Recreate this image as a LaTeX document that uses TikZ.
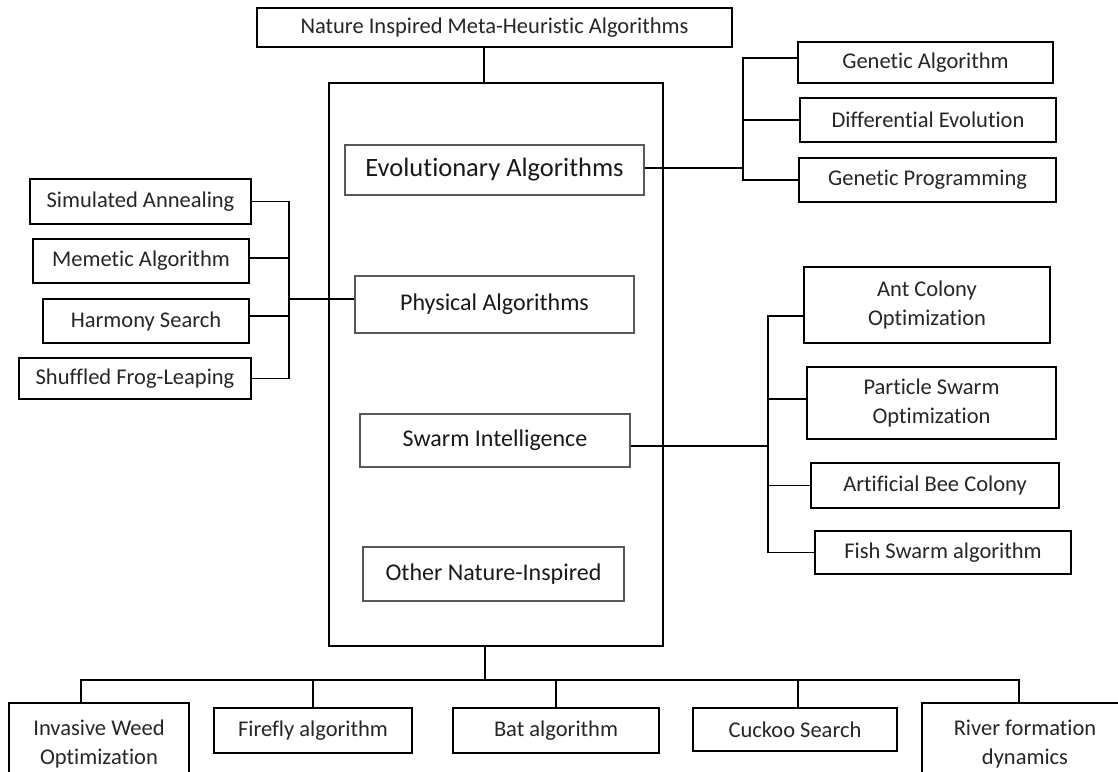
\documentclass[tikz,border=0pt]{standalone}
\usepackage{fontspec}
\setmainfont[Ligatures=NoCommon]{Carlito}
\usepackage{tikz}
\tikzstyle{leafbox}=[draw=black,line width=1.4pt,fill=white,inner sep=0pt,align=center,text=black!85,font=\fontsize{22.5}{29}\selectfont]
\tikzstyle{groupbox}=[draw=black!65,line width=2pt,fill=white,inner sep=0pt,align=center,text=black!90,font=\fontsize{24}{29}\selectfont]
\tikzstyle{framebox}=[draw=black,line width=1.4pt,inner sep=0pt]
\tikzstyle{link}=[line width=1.2pt]

\begin{document}
\begin{tikzpicture}[x=1pt,y=-1pt]
	\useasboundingbox (0,0) rectangle (1118,771);

	% centre column
	\node[framebox,minimum width=334pt,minimum height=563pt] (frame) at (496,364.5) {};
	\node[leafbox,minimum width=475pt,minimum height=39pt] (top) at (494.5,27.5) {Nature Inspired Meta-Heuristic Algorithms};
	\node[groupbox,minimum width=299pt,minimum height=50pt,font=\fontsize{26.5}{30}\selectfont] (evo) at (494.5,170) {Evolutionary Algorithms};
	\node[groupbox,minimum width=279pt,minimum height=57pt] (phys) at (494.5,304.5) {Physical Algorithms};
	\node[groupbox,minimum width=270pt,minimum height=53pt] (swarm) at (495,440.5) {Swarm Intelligence};
	\node[groupbox,minimum width=261pt,minimum height=54pt] (other) at (493.5,574) {Other Nature-Inspired};

	% evolutionary
	\node[leafbox,minimum width=255pt,minimum height=41pt] (ga) at (925.5,62.5) {Genetic Algorithm};
	\node[leafbox,minimum width=256pt,minimum height=44pt] (de) at (928,120) {Differential Evolution};
	\node[leafbox,minimum width=257pt,minimum height=44pt] (gp) at (927.5,180) {Genetic Programming};

	% physical
	\node[leafbox,minimum width=221pt,minimum height=45pt] (sa) at (140.5,201.5) {Simulated Annealing};
	\node[leafbox,minimum width=216pt,minimum height=44pt] (me) at (141,261) {Memetic Algorithm};
	\node[leafbox,minimum width=206pt,minimum height=44pt] (hs) at (146,321) {Harmony Search};
	\node[leafbox,minimum width=232pt,minimum height=41pt] (sfl) at (135,378.5) {Shuffled Frog-Leaping};

	% swarm
	\node[leafbox,minimum width=246pt,minimum height=76pt] (aco) at (927,305) {Ant Colony\\Optimization};
	\node[leafbox,minimum width=249pt,minimum height=72pt] (pso) at (931.5,403) {Particle Swarm\\Optimization};
	\node[leafbox,minimum width=248pt,minimum height=45pt] (abc) at (935,485.5) {Artificial Bee Colony};
	\node[leafbox,minimum width=256pt,minimum height=43pt] (fsa) at (943,552.5) {Fish Swarm algorithm};

	% other
	\node[leafbox,minimum width=180pt,minimum height=82pt] (iwo) at (99,744) {Invasive Weed\\Optimization};
	\node[leafbox,minimum width=198pt,minimum height=45pt] (ffa) at (313,730.5) {Firefly algorithm};
	\node[leafbox,minimum width=206pt,minimum height=45pt] (bat) at (556,730.5) {Bat algorithm};
	\node[leafbox,minimum width=204pt,minimum height=43pt] (cs) at (795,729.5) {Cuckoo Search};
	\node[leafbox,minimum width=206pt,minimum height=82pt] (rfd) at (1025,744) {River formation\\dynamics};

	\coordinate (evobus) at (743,168);
	\coordinate (physbus) at (289,299);
	\coordinate (swarmbus) at (768,446);
	\coordinate (botbus) at (485,680);

	\draw[link] ([xshift=-10.5pt]top.south) -- ([xshift=-10.5pt]top.south |- frame.north);

	\draw[link] (evo.east |- evobus) -- (evobus);
	\draw[link] ([yshift=4.5pt]ga.west) -| (evobus);
	\draw[link] (de.west) -| (evobus);
	\draw[link] (gp.west) -| (evobus);

	\draw[link] (phys.west |- physbus) -- (physbus);
	\draw[link] (sa.east) -| (physbus);
	\draw[link] ([yshift=3pt]me.east) -| (physbus);
	\draw[link] ([yshift=5pt]hs.east) -| (physbus);
	\draw[link] (sfl.east) -| (physbus);

	\draw[link] (swarm.east |- swarmbus) -- (swarmbus);
	\draw[link] ([yshift=-11pt]aco.west) -| (swarmbus);
	\draw[link] ([yshift=4pt]pso.west) -| (swarmbus);
	\draw[link] (abc.west) -| (swarmbus);
	\draw[link] (fsa.west) -| (swarmbus);

	\draw[link] (frame.south -| botbus) -- (botbus);
	\draw[link] ([xshift=-18pt]iwo.north) |- (botbus);
	\draw[link] (ffa.north) |- (botbus);
	\draw[link] (bat.north) |- (botbus);
	\draw[link] ([xshift=3pt]cs.north) |- (botbus);
	\draw[link] ([xshift=-6pt]rfd.north) |- (botbus);
\end{tikzpicture}
\end{document}
